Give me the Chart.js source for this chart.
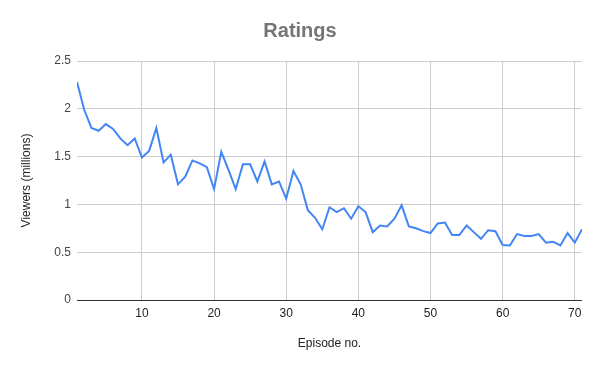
<!DOCTYPE html>
<html>
<head>
<meta charset="utf-8">
<script src="https://cdn.jsdelivr.net/npm/chart.js@4/dist/chart.umd.min.js"></script>
<style>
  html, body { margin: 0; padding: 0; background: #fff; }
  #wrap { width: 600px; height: 371px; }
</style>
</head>
<body>
<div id="wrap"><canvas id="chart"></canvas></div>
<script>
// values
var episodes = [];
for (var i = 1; i <= 71; i++) episodes.push(i);

var viewers = [
  2.28, 1.99, 1.80, 1.77, 1.84, 1.79, 1.69, 1.62, 1.69, 1.49,
  1.56, 1.80, 1.44, 1.52, 1.21, 1.29, 1.46, 1.43, 1.39, 1.16,
  1.55, 1.36, 1.16, 1.42, 1.42, 1.24, 1.45, 1.21, 1.24, 1.06,
  1.35, 1.21, 0.94, 0.86, 0.74, 0.97, 0.92, 0.96, 0.85, 0.98,
  0.92, 0.71, 0.78, 0.77, 0.85, 0.99, 0.77, 0.75, 0.72, 0.70,
  0.80, 0.81, 0.68, 0.68, 0.78, 0.71, 0.64, 0.73, 0.72, 0.575,
  0.57, 0.69, 0.67, 0.67, 0.69, 0.60, 0.61, 0.57, 0.70, 0.60,
  0.74
];

var xTicks = [10, 20, 30, 40, 50, 60, 70];
var yTicks = [0, 0.5, 1, 1.5, 2, 2.5];

var font = "Arial, 'Liberation Sans', sans-serif";

var points = [];
for (var k = 0; k < episodes.length; k++) {
  points.push({ x: episodes[k], y: viewers[k] });
}

new Chart(document.getElementById("chart"), {
  type: "line",
  data: {
    datasets: [{
      data: points,
      borderColor: "#4285f4",
      borderWidth: 2,
      pointRadius: 0,
      tension: 0,
      fill: false
    }]
  },
  options: {
    responsive: true,
    maintainAspectRatio: false,
    animation: false,
    layout: { padding: 0 },
    plugins: {
      legend: { display: false },
      tooltip: { enabled: false },
      title: {
        display: true,
        text: "Ratings",
        color: "#757575",
        font: { family: font, size: 20, weight: "bold" },
        padding: { top: 19, bottom: 18 }
      }
    },
    scales: {
      x: {
        type: "linear",
        min: 1,
        max: 71,
        afterBuildTicks: function (axis) {
          axis.ticks = xTicks.map(function (v) { return { value: v }; });
        },
        afterFit: function (axis) { axis.height = 71; },
        grid: { color: "#cccccc", drawTicks: false },
        border: { display: false },
        ticks: {
          color: "#222222",
          padding: 6,
          maxRotation: 0,
          font: { family: font, size: 12 }
        },
        title: {
          display: true,
          text: "Episode no.",
          color: "#222222",
          font: { family: font, size: 12 },
          padding: { top: 4, bottom: 20 }
        }
      },
      y: {
        min: 0,
        max: 2.5,
        afterBuildTicks: function (axis) {
          axis.ticks = yTicks.map(function (v) { return { value: v }; });
        },
        afterFit: function (axis) { axis.width = 77; },
        grid: {
          drawTicks: false,
          color: function (ctx) {
            return ctx.tick && ctx.tick.value === 0 ? "#333333" : "#cccccc";
          }
        },
        border: { display: false },
        ticks: {
          color: "#444444",
          padding: 6,
          font: { family: font, size: 12 },
          callback: function (v) { return String(v); }
        },
        title: {
          display: true,
          text: "Viewers (millions)",
          color: "#222222",
          font: { family: font, size: 12 },
          padding: { top: 19, bottom: 4 }
        }
      },
      // empty right axis, only keeps the right margin so the title stays centred
      yRight: {
        position: "right",
        display: true,
        afterFit: function (axis) { axis.width = 18; },
        grid: { display: false },
        border: { display: false },
        ticks: { display: false }
      }
    }
  }
});
</script>
</body>
</html>
